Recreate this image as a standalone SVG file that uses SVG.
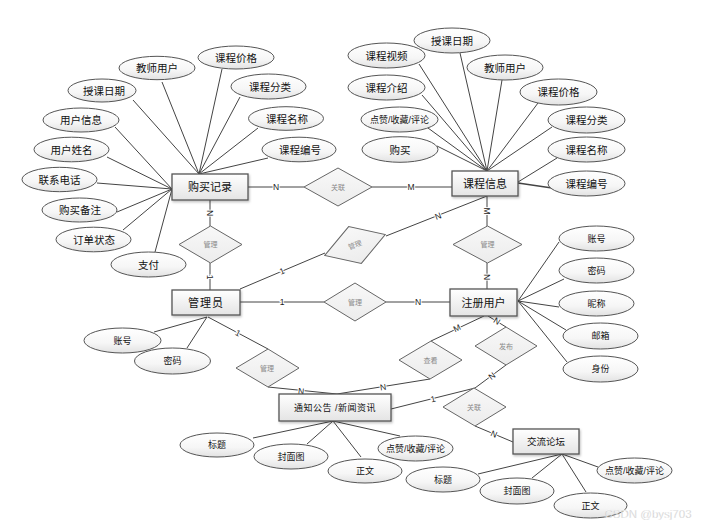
<svg xmlns="http://www.w3.org/2000/svg" width="704" height="528" viewBox="0 0 704 528">
<defs>
<linearGradient id="gRect" x1="0" y1="0" x2="0" y2="1"><stop offset="0" stop-color="#ffffff"/><stop offset="1" stop-color="#e4e4e4"/></linearGradient>
<linearGradient id="gEll" x1="0" y1="0" x2="0" y2="1"><stop offset="0" stop-color="#ffffff"/><stop offset="0.6" stop-color="#f6f6f6"/><stop offset="1" stop-color="#e2e2e2"/></linearGradient>
<linearGradient id="gDia" x1="0" y1="0" x2="0" y2="1"><stop offset="0" stop-color="#f8f8f8"/><stop offset="1" stop-color="#ececec"/></linearGradient>
<filter id="sh" x="-10%" y="-10%" width="130%" height="140%"><feDropShadow dx="1" dy="1.5" stdDeviation="0.8" flood-color="#000" flood-opacity="0.25"/></filter>
</defs>
<style>
text{font-family:"Liberation Sans","Noto Sans CJK SC",sans-serif;text-anchor:middle;dominant-baseline:central;fill:#111}
.ent rect{fill:url(#gRect);stroke:#555;stroke-width:1.3;filter:url(#sh)}
.ent text{font-size:11px}
.att ellipse{fill:url(#gEll);stroke:#555;stroke-width:1}
.att text{font-size:10.5px}
.att text.s{font-size:9px}
.rel polygon{fill:url(#gDia);stroke:#666;stroke-width:1}
.rel text{font-size:7px;fill:#8a8a8a}
#connectors line{stroke:#444;stroke-width:1}
.lbl{font-size:8.5px;fill:#222;stroke:#fff;stroke-width:2;paint-order:stroke}
</style>
<rect width="704" height="528" fill="#fff"/>
<g id="connectors">
<line x1="248" y1="187" x2="304" y2="187"/>
<line x1="372" y1="187" x2="452" y2="187"/>
<line x1="210" y1="200" x2="210" y2="226"/>
<line x1="210" y1="263" x2="210" y2="290"/>
<line x1="240" y1="289" x2="325" y2="253"/>
<line x1="386" y1="236" x2="487" y2="196"/>
<line x1="487" y1="196" x2="487" y2="226"/>
<line x1="487" y1="263" x2="487" y2="289"/>
<line x1="240" y1="302" x2="324" y2="302"/>
<line x1="386" y1="302" x2="450" y2="302"/>
<line x1="208" y1="317" x2="268" y2="349"/>
<line x1="268" y1="387" x2="337" y2="394"/>
<line x1="431" y1="341" x2="484" y2="316"/>
<line x1="430" y1="379" x2="337" y2="394"/>
<line x1="488" y1="316" x2="506" y2="327"/>
<line x1="506" y1="365" x2="475" y2="388"/>
<line x1="391" y1="409" x2="475" y2="388"/>
<line x1="475" y1="426" x2="513" y2="442"/>
<line x1="199" y1="174" x2="222" y2="69"/>
<line x1="199" y1="174" x2="162" y2="82"/>
<line x1="199" y1="174" x2="133" y2="100"/>
<line x1="199" y1="174" x2="240" y2="97"/>
<line x1="199" y1="174" x2="258" y2="128"/>
<line x1="199" y1="174" x2="268" y2="158"/>
<line x1="172" y1="189" x2="115" y2="127"/>
<line x1="172" y1="189" x2="107" y2="157"/>
<line x1="172" y1="189" x2="97" y2="183"/>
<line x1="172" y1="189" x2="117" y2="212"/>
<line x1="172" y1="189" x2="123" y2="230"/>
<line x1="172" y1="189" x2="155" y2="252"/>
<line x1="487" y1="171" x2="460" y2="53"/>
<line x1="487" y1="171" x2="419" y2="64"/>
<line x1="487" y1="171" x2="502" y2="80"/>
<line x1="487" y1="171" x2="422" y2="95"/>
<line x1="487" y1="171" x2="538" y2="103"/>
<line x1="487" y1="171" x2="428" y2="128"/>
<line x1="487" y1="171" x2="552" y2="127"/>
<line x1="487" y1="171" x2="437" y2="146"/>
<line x1="518" y1="182" x2="557" y2="158"/>
<line x1="518" y1="183" x2="552" y2="188" style="stroke-width:1.5"/>
<line x1="518" y1="301" x2="559" y2="242"/>
<line x1="518" y1="301" x2="564" y2="279"/>
<line x1="518" y1="301" x2="559" y2="307"/>
<line x1="518" y1="301" x2="566" y2="330"/>
<line x1="518" y1="301" x2="567" y2="362"/>
<line x1="207" y1="317" x2="154" y2="332"/>
<line x1="207" y1="317" x2="187" y2="348"/>
<line x1="333" y1="421" x2="253" y2="438"/>
<line x1="333" y1="421" x2="307" y2="444"/>
<line x1="333" y1="421" x2="361" y2="457"/>
<line x1="333" y1="421" x2="400" y2="436"/>
<line x1="562" y1="454" x2="478" y2="474"/>
<line x1="562" y1="454" x2="532" y2="478"/>
<line x1="562" y1="454" x2="586" y2="492"/>
<line x1="562" y1="454" x2="598" y2="467"/>
<g id="cardinality">
<text class="lbl" x="276" y="187">N</text>
<text class="lbl" x="411" y="187">M</text>
<text class="lbl" transform="translate(210,213) rotate(90)">N</text>
<text class="lbl" transform="translate(210,277) rotate(90)">1</text>
<text class="lbl" transform="translate(282,271) rotate(-23)">1</text>
<text class="lbl" transform="translate(438,216) rotate(-21)">N</text>
<text class="lbl" transform="translate(487,211) rotate(90)">M</text>
<text class="lbl" transform="translate(487,277) rotate(90)">N</text>
<text class="lbl" x="282" y="302">1</text>
<text class="lbl" x="418" y="302">N</text>
<text class="lbl" transform="translate(238,333) rotate(28)">1</text>
<text class="lbl" transform="translate(301,391) rotate(6)">N</text>
<text class="lbl" transform="translate(457,328) rotate(-25)">M</text>
<text class="lbl" transform="translate(383,387) rotate(-9)">N</text>
<text class="lbl" transform="translate(497,321) rotate(31)">N</text>
<text class="lbl" transform="translate(492,376) rotate(-37)">N</text>
<text class="lbl" transform="translate(433,399) rotate(-14)">1</text>
<text class="lbl" transform="translate(494,434) rotate(23)">N</text>
</g>
</g>
<g class="rel" id="r_rel1"><polygon points="304,187 338,168 372,187 338,206"/><text x="338" y="187">关联</text></g>
<g class="rel" id="r_mgr1"><polygon points="179,244.5 210.5,226 242,244.5 210.5,263"/><text x="210.5" y="244.5">管理</text></g>
<g class="rel" id="r_mgr2" transform="translate(355,245) rotate(-19)"><polygon points="-32,0 0,-19.5 32,0 0,19.5"/><text x="0" y="0">管理</text></g>
<g class="rel" id="r_mgr3"><polygon points="453,244.5 487.5,226 522,244.5 487.5,263"/><text x="487.5" y="244.5">管理</text></g>
<g class="rel" id="r_mgr4"><polygon points="324,302 355,283 386,302 355,321"/><text x="355" y="302">管理</text></g>
<g class="rel" id="r_mgr5"><polygon points="236,368 268,349 299,368 268,387"/><text x="267" y="368">管理</text></g>
<g class="rel" id="r_view"><polygon points="399,360 431,341 462,360 430,379"/><text x="430.5" y="360">查看</text></g>
<g class="rel" id="r_pub"><polygon points="475,346 506,327 537,346 506,365"/><text x="506" y="346">发布</text></g>
<g class="rel" id="r_rel2"><polygon points="443,407 474,388 506,407 475,426"/><text x="474" y="407">关联</text></g>
<g class="ent" id="e_purchase"><rect x="172" y="174" width="76" height="26"/><text x="210" y="187">购买记录</text></g>
<g class="ent" id="e_course"><rect x="452" y="171" width="66" height="25"/><text x="485" y="183.5">课程信息</text></g>
<g class="ent" id="e_admin"><rect x="172" y="290" width="68" height="25"/><text x="206" y="302.5" style="letter-spacing:1px">管理员</text></g>
<g class="ent" id="e_user"><rect x="450" y="289" width="67" height="27"/><text x="483.5" y="302.5">注册用户</text></g>
<g class="ent" id="e_notice"><rect x="279" y="394" width="112" height="27"/><text x="335" y="407.5" style="font-size:9px;letter-spacing:0.5px">通知公告 /新闻资讯</text></g>
<g class="ent" id="e_forum"><rect x="513" y="429" width="66" height="25"/><text x="546" y="441.5" style="font-size:9.5px">交流论坛</text></g>
<g class="att" id="a_p1"><ellipse cx="236" cy="57.5" rx="38" ry="11.5"/><text x="236" y="57.5">课程价格</text></g>
<g class="att" id="a_p2"><ellipse cx="157" cy="68" rx="38" ry="11.7"/><text x="157" y="68">教师用户</text></g>
<g class="att" id="a_p3"><ellipse cx="102" cy="90.5" rx="34" ry="11.5"/><text x="104" y="90.5">授课日期</text></g>
<g class="att" id="a_p4"><ellipse cx="268.5" cy="86.5" rx="37.5" ry="12.5"/><text x="270" y="86.5">课程分类</text></g>
<g class="att" id="a_p5"><ellipse cx="81" cy="120" rx="38" ry="12"/><text x="81" y="120">用户信息</text></g>
<g class="att" id="a_p6"><ellipse cx="286" cy="118.5" rx="37.5" ry="11.8"/><text x="287" y="118.5">课程名称</text></g>
<g class="att" id="a_p7"><ellipse cx="71.5" cy="149.5" rx="37.5" ry="12.3"/><text x="71.5" y="149.5">用户姓名</text></g>
<g class="att" id="a_p8"><ellipse cx="299" cy="149.5" rx="37" ry="12.3"/><text x="300" y="149.5">课程编号</text></g>
<g class="att" id="a_p9"><ellipse cx="59.5" cy="179.5" rx="37.5" ry="12.2"/><text x="59.5" y="179.5">联系电话</text></g>
<g class="att" id="a_p10"><ellipse cx="79.5" cy="210" rx="37.5" ry="12"/><text x="80" y="210">购买备注</text></g>
<g class="att" id="a_p11"><ellipse cx="93.5" cy="239.5" rx="37.5" ry="12.3"/><text x="94" y="239.5">订单状态</text></g>
<g class="att" id="a_p12"><ellipse cx="148.5" cy="264.5" rx="37.5" ry="12.5"/><text x="148.5" y="264.5">支付</text></g>
<g class="att" id="a_c1"><ellipse cx="452" cy="40.5" rx="38" ry="12.5"/><text x="452" y="40.5">授课日期</text></g>
<g class="att" id="a_c2"><ellipse cx="386.5" cy="55.5" rx="38.5" ry="12.5"/><text x="386.5" y="55.5">课程视频</text></g>
<g class="att" id="a_c3"><ellipse cx="505" cy="67.5" rx="38" ry="12.5"/><text x="505" y="67.5">教师用户</text></g>
<g class="att" id="a_c4"><ellipse cx="386.5" cy="87.5" rx="38.5" ry="12.5"/><text x="386.5" y="87.5">课程介绍</text></g>
<g class="att" id="a_c5"><ellipse cx="558.5" cy="92" rx="38.5" ry="13"/><text x="558.5" y="92">课程价格</text></g>
<g class="att" id="a_c6"><ellipse cx="399.5" cy="119.5" rx="38.5" ry="12.5"/><text class="s" x="399.5" y="119.5">点赞/收藏/评论</text></g>
<g class="att" id="a_c7"><ellipse cx="586.5" cy="120" rx="38.5" ry="13"/><text x="586.5" y="120">课程分类</text></g>
<g class="att" id="a_c8"><ellipse cx="400" cy="149.5" rx="38" ry="12.8"/><text x="400" y="149.5">购买</text></g>
<g class="att" id="a_c9"><ellipse cx="586.5" cy="149.5" rx="38.5" ry="12.5"/><text x="586.5" y="149.5">课程名称</text></g>
<g class="att" id="a_c10"><ellipse cx="586.5" cy="183.5" rx="38.5" ry="12.5"/><text x="586.5" y="183.5">课程编号</text></g>
<g class="att" id="a_u1"><ellipse cx="596.5" cy="238.5" rx="37.5" ry="12.5"/><text class="s" x="596.5" y="238.5">账号</text></g>
<g class="att" id="a_u2"><ellipse cx="596.5" cy="270.5" rx="37.5" ry="12.5"/><text class="s" x="596.5" y="270.5">密码</text></g>
<g class="att" id="a_u3"><ellipse cx="596.5" cy="303.5" rx="37.5" ry="12.5"/><text class="s" x="596.5" y="303.5">昵称</text></g>
<g class="att" id="a_u4"><ellipse cx="600.5" cy="336" rx="37.5" ry="13"/><text class="s" x="600.5" y="336">邮箱</text></g>
<g class="att" id="a_u5"><ellipse cx="600.5" cy="369" rx="37.5" ry="13"/><text class="s" x="600.5" y="369">身份</text></g>
<g class="att" id="a_a1"><ellipse cx="122.5" cy="340.5" rx="38.5" ry="12.5"/><text class="s" x="122.5" y="340.5">账号</text></g>
<g class="att" id="a_a2"><ellipse cx="172.5" cy="361" rx="38" ry="13"/><text class="s" x="172.5" y="361">密码</text></g>
<g class="att" id="a_n1"><ellipse cx="217" cy="445" rx="37" ry="12"/><text class="s" x="217" y="445">标题</text></g>
<g class="att" id="a_n2"><ellipse cx="291" cy="456.5" rx="37" ry="12.5"/><text class="s" x="291" y="456.5">封面图</text></g>
<g class="att" id="a_n3"><ellipse cx="365" cy="471" rx="37" ry="12"/><text class="s" x="365" y="471">正文</text></g>
<g class="att" id="a_n4"><ellipse cx="415.5" cy="448.5" rx="37.5" ry="12.5"/><text class="s" x="415.5" y="448.5">点赞/收藏/评论</text></g>
<g class="att" id="a_f1"><ellipse cx="443" cy="479.5" rx="37" ry="12.5"/><text class="s" x="443" y="479.5">标题</text></g>
<g class="att" id="a_f2"><ellipse cx="517" cy="491" rx="37" ry="13"/><text class="s" x="517" y="491">封面图</text></g>
<g class="att" id="a_f3"><ellipse cx="590.5" cy="505.5" rx="36.5" ry="12.5"/><text class="s" x="590.5" y="505.5">正文</text></g>
<g class="att" id="a_f4"><ellipse cx="634.5" cy="470.5" rx="37.5" ry="12.5"/><text class="s" x="634.5" y="470.5">点赞/收藏/评论</text></g>
<text x="648" y="514" style="font-size:11.5px;fill:#c4c4c4;stroke:#fff;stroke-width:0.3">CSDN @bysj703</text>
</svg>
